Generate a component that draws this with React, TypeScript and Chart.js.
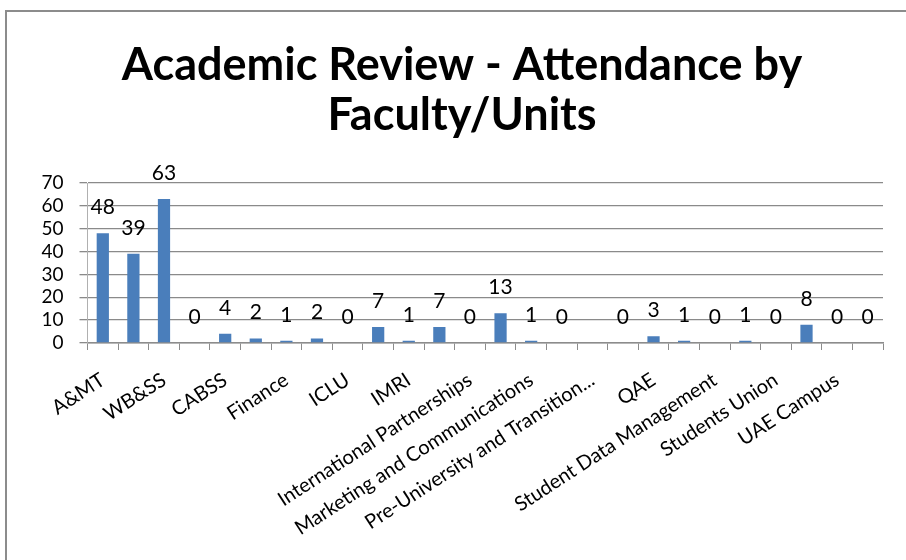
import React, { useEffect, useRef } from "react";
import { Chart, registerables } from "chart.js";

Chart.register(...registerables);

const titleLines = ["Academic Review - Attendance by", "Faculty/Units"];

// Every other category name is hidden in the reference (axis label skipping); unknown ones left blank.
const categories = [
  "A&MT", "", "WB&SS", "", "CABSS", "", "Finance", "", "ICLU", "", "IMRI", "",
  "International Partnerships", "", "Marketing and Communications", "",
  "Pre-University and Transition...", "", "QAE", "", "Student Data Management", "",
  "Students Union", "", "UAE Campus", "",
];

const attendance: (number | null)[] = [
  48, 39, 63, 0, 4, 2, 1, 2, 0, 7, 1, 7, 0, 13, 1, 0, null, 0, 3, 1, 0, 1, 0, 8, 0, 0,
];

const yMin = 0;
const yMax = 70;
const yStep = 10;

const FONT = "Lato, 'Open Sans', sans-serif";

const borderPlugin = {
  id: "frame",
  beforeDraw(chart: any) {
    const ctx = chart.ctx;
    ctx.save();
    ctx.fillStyle = "#ffffff";
    ctx.fillRect(0, 0, chart.width, chart.height);
    ctx.strokeStyle = "#8c8c8c";
    ctx.lineWidth = 2;
    ctx.beginPath();
    ctx.moveTo(6, chart.height);
    ctx.lineTo(6, 11);
    ctx.lineTo(chart.width, 11);
    ctx.stroke();
    ctx.restore();
  },
};

const dataLabelPlugin = {
  id: "valueLabels",
  afterDatasetsDraw(chart: any) {
    const ctx = chart.ctx;
    const meta = chart.getDatasetMeta(0);
    ctx.save();
    ctx.fillStyle = "#000000";
    ctx.font = `21px ${FONT}`;
    ctx.textAlign = "center";
    ctx.textBaseline = "alphabetic";
    meta.data.forEach((bar: any, i: number) => {
      const v = attendance[i];
      if (v === null || v === undefined) return;
      ctx.fillText(String(v), bar.x, bar.y - 19);
    });
    ctx.restore();
  },
};

export default function App() {
  const ref = useRef<HTMLCanvasElement>(null);
  useEffect(() => {
    if (!ref.current) return;
    const chart = new Chart(ref.current, {
      type: "bar",
      data: {
        labels: categories,
        datasets: [
          {
            data: attendance,
            backgroundColor: "#4a7ebb",
            borderWidth: 0,
            barPercentage: 0.4,
            categoryPercentage: 1,
          },
        ],
      },
      options: {
        animation: false,
        responsive: false,
        maintainAspectRatio: false,
        layout: { padding: { left: 41, right: 23, top: 0, bottom: 0 } },
        plugins: {
          legend: { display: false },
          tooltip: { enabled: false },
          title: {
            display: true,
            text: titleLines,
            color: "#000000",
            font: { family: FONT, size: 45, weight: "bold", lineHeight: 1.1 },
            padding: { top: 41, bottom: 43 },
          },
        },
        scales: {
          x: {
            grid: {
              display: true,
              drawOnChartArea: false,
              drawTicks: true,
              tickLength: 7,
              color: "#8c8c8c",
              offset: true,
            },
            border: { display: true, color: "#8c8c8c", width: 1.5 },
            ticks: {
              autoSkip: false,
              minRotation: 33,
              maxRotation: 33,
              padding: 18,
              color: "#000000",
              font: { family: FONT, size: 20 },
            },
            afterFit: (scale: any) => {
              scale.height = 217;
            },
          },
          y: {
            min: yMin,
            max: yMax,
            grid: {
              color: "#8a8a8a",
              lineWidth: 1.3,
              drawTicks: true,
              tickLength: 8,
            },
            border: { display: true, color: "#b0b0b0", width: 1 },
            ticks: {
              stepSize: yStep,
              autoSkip: false,
              padding: 16,
              color: "#000000",
              font: { family: FONT, size: 19 },
            },
            afterFit: (scale: any) => {
              scale.width = 46.5;
            },
          },
        },
      },
      plugins: [borderPlugin, dataLabelPlugin],
    } as any);
    return () => chart.destroy();
  }, []);
  return (
    <div style={{ position: "absolute", left: 0, top: 0, width: 906, height: 560 }}>
      <canvas ref={ref} width={906} height={560} style={{ width: 906, height: 560 }} />
    </div>
  );
}
